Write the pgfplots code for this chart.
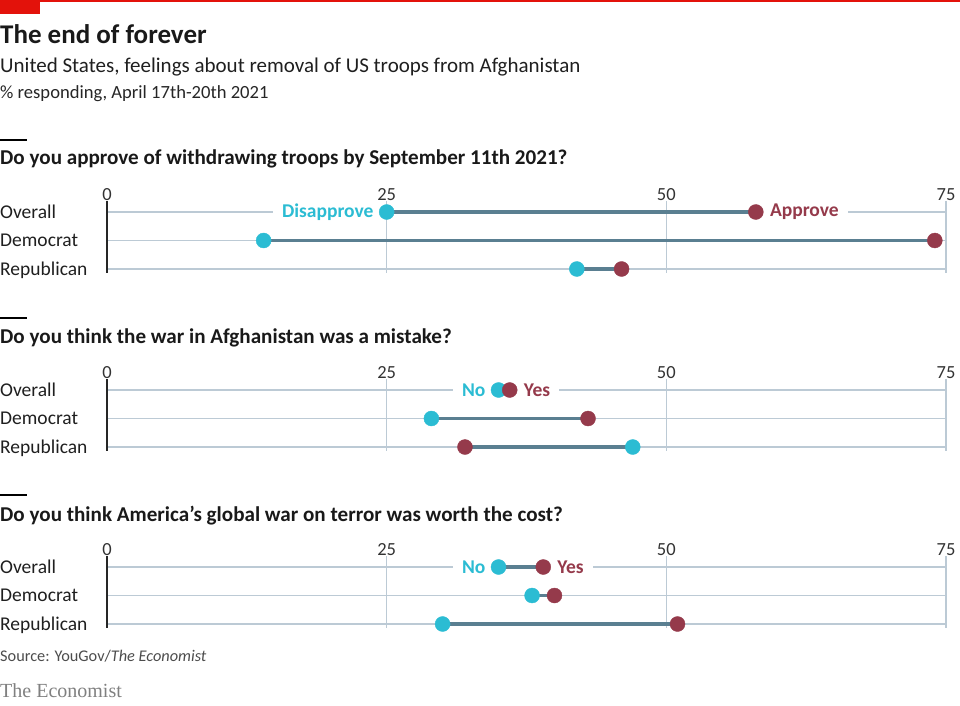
\documentclass[border=0pt]{standalone}
\usepackage{pgfplots}
\pgfplotsset{compat=1.18}
\usepackage{fontspec}
\setmainfont{Carlito}
\newfontfamily\econfont{Liberation Serif}

\definecolor{dotcyan}{HTML}{2BBCD3}
\definecolor{dotred}{HTML}{953A4B}
\definecolor{stem}{HTML}{5A7F91}
\definecolor{gridc}{HTML}{BCCAD5}
\definecolor{econred}{HTML}{E3120B}

\pgfplotsset{
  dumbbell/.style={
    scale only axis, width=839pt, height=72pt, anchor=south west,
    xmin=0, xmax=75, ymin=0.614, ymax=3.14, y dir=reverse,
    clip=false, axis line style={draw=none}, major tick length=0pt,
    xtick={25,50,75}, xticklabels={25,50,75},
    extra x ticks={0}, extra x tick labels={0},
    extra x tick style={grid style={draw=black!85, line width=1.6pt}},
    xticklabel pos=upper,
    xticklabel style={font=\fontsize{18.5}{18}\selectfont, text=black!80, yshift=-3pt},
    ytick={1,2,3}, yticklabels={Overall,Democrat,Republican},
    yticklabel style={anchor=base west, xshift=-107pt, yshift=-6pt, inner xsep=0pt,
      font=\fontsize{19.5}{19}\selectfont, text=black!88},
    xmajorgrids, ymajorgrids, grid style={gridc, line width=1.3pt},
  },
  stemline/.style={stem, line width=3.5pt},
  cdot/.style={only marks, mark=*, mark size=7.5pt, mark options={draw=dotcyan, fill=dotcyan}},
  rdot/.style={only marks, mark=*, mark size=7.5pt, mark options={draw=dotred, fill=dotred}},
}
\tikzset{
  lab/.style={font=\fontsize{19.5}{19}\selectfont\bfseries, fill=white, inner xsep=9pt, inner ysep=1pt},
}

\begin{document}
\begin{tikzpicture}
\useasboundingbox (0pt,0pt) rectangle (960pt,705pt);

% header
\fill[econred] (0pt,703pt) rectangle (960pt,705pt);
\fill[econred] (0pt,691pt) rectangle (40pt,705pt);
\node[anchor=base west, inner sep=0pt, font=\fontsize{27}{30}\selectfont\bfseries, text=black!90] at (0pt,661pt) {The end of forever};
\node[anchor=base west, inner sep=0pt, font=\fontsize{21}{24}\selectfont, text=black!88] at (0pt,632pt) {United States, feelings about removal of US troops from Afghanistan};
\node[anchor=base west, inner sep=0pt, font=\fontsize{18.6}{20}\selectfont, text=black!85] at (0pt,606pt) {\% responding, April 17th-20th 2021};

% panel 1
\draw[line width=1.5pt] (0pt,565pt) -- (27pt,565pt);
\node[anchor=base west, inner sep=0pt, font=\fontsize{21.1}{24}\selectfont\bfseries, text=black!90] at (0pt,540pt) {Do you approve of withdrawing troops by September 11th 2021?};
\begin{axis}[dumbbell, at={(107pt,432pt)}]
  \node[lab, anchor=east, text=dotcyan, xshift=-4pt] at (axis cs:25,1) {Disapprove};
  \node[lab, anchor=west, text=dotred, xshift=5pt] at (axis cs:58,1) {Approve};
  \addplot[stemline] coordinates {(25,1) (58,1)};
  \addplot[stemline] coordinates {(14,2) (74,2)};
  \addplot[stemline] coordinates {(42,3) (46,3)};
  \addplot[cdot] coordinates {(25,1) (14,2) (42,3)};
  \addplot[rdot] coordinates {(58,1) (74,2) (46,3)};
\end{axis}

% panel 2
\draw[line width=1.5pt] (0pt,387pt) -- (27pt,387pt);
\node[anchor=base west, inner sep=0pt, font=\fontsize{21.1}{24}\selectfont\bfseries, text=black!90] at (0pt,362pt) {Do you think the war in Afghanistan was a mistake?};
\begin{axis}[dumbbell, at={(107pt,254pt)}]
  \node[lab, anchor=east, text=dotcyan, xshift=-4pt] at (axis cs:35,1) {No};
  \node[lab, anchor=west, text=dotred, xshift=5pt] at (axis cs:36,1) {Yes};
  \addplot[stemline] coordinates {(35,1) (36,1)};
  \addplot[stemline] coordinates {(29,2) (43,2)};
  \addplot[stemline] coordinates {(47,3) (32,3)};
  \addplot[cdot] coordinates {(35,1) (29,2) (47,3)};
  \addplot[rdot] coordinates {(36,1) (43,2) (32,3)};
\end{axis}

% panel 3
\draw[line width=1.5pt] (0pt,210pt) -- (27pt,210pt);
\node[anchor=base west, inner sep=0pt, font=\fontsize{21.1}{24}\selectfont\bfseries, text=black!90] at (0pt,184pt) {Do you think America’s global war on terror was worth the cost?};
\begin{axis}[dumbbell, at={(107pt,77pt)}]
  \node[lab, anchor=east, text=dotcyan, xshift=-4pt] at (axis cs:35,1) {No};
  \node[lab, anchor=west, text=dotred, xshift=5pt] at (axis cs:39,1) {Yes};
  \addplot[stemline] coordinates {(35,1) (39,1)};
  \addplot[stemline] coordinates {(38,2) (40,2)};
  \addplot[stemline] coordinates {(30,3) (51,3)};
  \addplot[cdot] coordinates {(35,1) (38,2) (30,3)};
  \addplot[rdot] coordinates {(39,1) (40,2) (51,3)};
\end{axis}

% footer
\node[anchor=base west, inner sep=0pt, font=\fontsize{16.3}{18}\selectfont, text=black!70] at (0pt,44pt) {Source: YouGov/\textit{The Economist}};
\node[anchor=base west, inner sep=0pt, font=\econfont\fontsize{20}{20}\selectfont, text=black!50] at (0pt,8pt) {The Economist};
\end{tikzpicture}
\end{document}
